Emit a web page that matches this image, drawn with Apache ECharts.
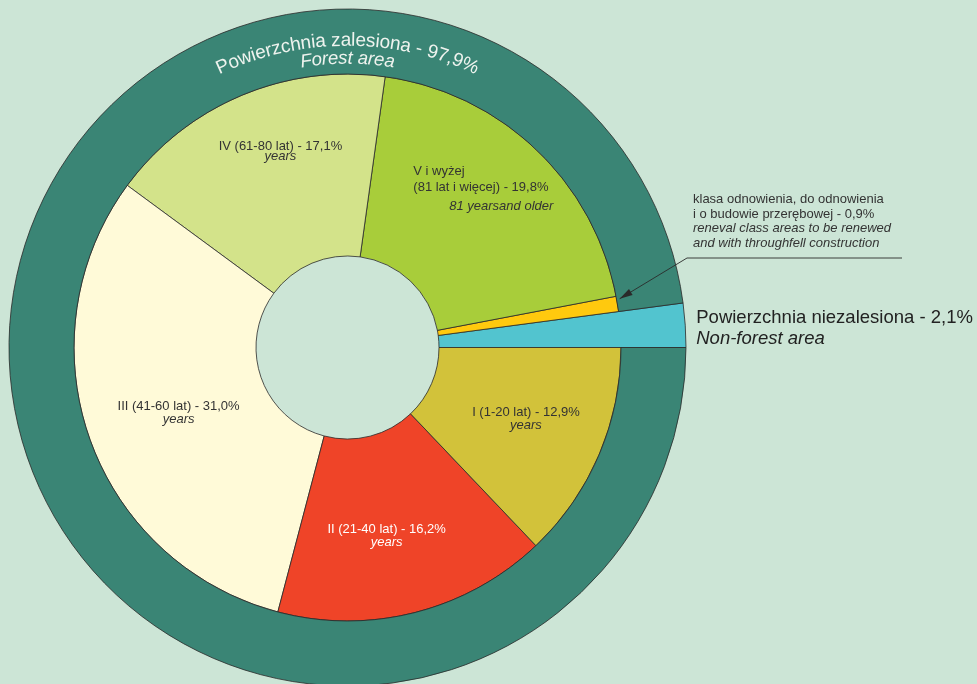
<!DOCTYPE html>
<html>
<head>
<meta charset="utf-8">
<script src="https://cdn.jsdelivr.net/npm/echarts@6/dist/echarts.min.js"></script>
<style>
html,body{margin:0;padding:0;background:#cce5d6;}
#main{width:977px;height:684px;}
</style>
</head>
<body>
<div id="main"></div>
<script>
// klasy wieku - udział w powierzchni (%)
const classLabels = ['V i wyżej', 'IV (61-80 lat)', 'III (41-60 lat)', 'II (21-40 lat)', 'I (1-20 lat)'];
const classValues = [19.8, 17.1, 31.0, 16.2, 12.9];
const renewalValue = 0.9;      // klasa odnowienia, do odnowienia...
const nonForestValue = 2.1;    // powierzchnia niezalesiona
const forestValue = 97.9;      // powierzchnia zalesiona

const FONT = '"Liberation Sans", Arial, sans-serif';
const cx = 347.5, cy = 347.5;
const rHole = 91.5, rMid = 273.5, rOut = 338.5;
const classColors = ['#a8cd3a', '#d3e38a', '#fffad8', '#ef4428', '#d2c23a'];
// przesunięcia etykiet wewnątrz wycinków [dx, dy]
const labelShift = [[0, 0], [0, 0], [8, -23], [5, -25], [6, 4], [-7, 9], [8, -2]];

const pct = v => v.toFixed(1).replace('.', ',') + '%';
const border = {borderColor: '#2a2a2a', borderWidth: 0.8};
const hidden = {color: 'transparent', borderWidth: 0};

var myChart = echarts.init(document.getElementById('main'));

// tekst po łuku pierścienia
const ctx = document.createElement('canvas').getContext('2d');
function arcText(str, font, R, color) {
    ctx.font = font;
    let chars = Array.from(str);
    let widths = chars.map(ch => ctx.measureText(ch).width);
    let total = widths.reduce((a, b) => a + b, 0);
    let s = -total / 2;
    let out = [];
    chars.forEach((ch, i) => {
        let mid = s + widths[i] / 2;
        s += widths[i];
        let th = Math.PI / 2 - mid / R;
        out.push({
            type: 'text',
            z: 100,
            x: cx + R * Math.cos(th),
            y: cy - R * Math.sin(th),
            rotation: th - Math.PI / 2,
            silent: true,
            style: {text: ch, font: font, fill: color, align: 'center', verticalAlign: 'middle',
                    textAlign: 'center', textVerticalAlign: 'middle'}
        });
    });
    return out;
}

// strzałka do wycinka odnowienia
const tipAngle = (nonForestValue + renewalValue * 0.8) / 100 * Math.PI * 2;
const tip = [cx + (rMid + 3) * Math.cos(tipAngle), cy - (rMid + 3) * Math.sin(tipAngle)];
const elbow = [687, 258];
const lineEnd = [902, 258];
let ux = tip[0] - elbow[0], uy = tip[1] - elbow[1];
let ul = Math.sqrt(ux * ux + uy * uy); ux /= ul; uy /= ul;
const aL = 13, aW = 3.5;
const arrowHead = [
    tip,
    [tip[0] - ux * aL - uy * aW, tip[1] - uy * aL + ux * aW],
    [tip[0] - ux * aL + uy * aW, tip[1] - uy * aL - ux * aW]
];

let classData = classValues.map((v, i) => {
    let dark = i === 3;
    let txt;
    if (i === 0) {
        txt = '{nv|V i wyżej}\n{nv|(81 lat i więcej) - ' + pct(v) + '}\n{iv|81 yearsand older}';
    } else if (i === 1) {
        txt = '{nt|' + classLabels[i] + ' - ' + pct(v) + '}\n{it|years}';
    } else {
        let n = dark ? 'nw' : 'n', it = dark ? 'iw' : 'i';
        txt = '{' + n + '|' + classLabels[i] + ' - ' + pct(v) + '}\n{' + it + '|years}';
    }
    return {
        name: classLabels[i],
        value: v,
        itemStyle: Object.assign({color: classColors[i]}, border),
        label: {show: true, formatter: txt}
    };
});

myChart.setOption({
    backgroundColor: '#cce5d6',
    animation: false,
    graphic: {
        elements: []
            .concat(arcText('Powierzchnia zalesiona - ' + pct(forestValue), '19px ' + FONT, 307, '#eef3ee'))
            .concat(arcText('Forest area', 'italic 18.5px ' + FONT, 289, '#eef3ee'))
            .concat([
                {
                    type: 'polyline', silent: true, z: 100,
                    shape: {points: [tip, elbow, lineEnd]},
                    style: {stroke: '#2a2a2a', lineWidth: 0.9, fill: null}
                },
                {
                    type: 'polygon', silent: true, z: 100,
                    shape: {points: arrowHead},
                    style: {fill: '#2a2a2a'}
                },
                {
                    type: 'text', x: 693, y: 192, silent: true, z: 100,
                    style: {
                        text: '{n|klasa odnowienia, do odnowienia}\n{n|i o budowie przerębowej - ' + pct(renewalValue) + '}\n' +
                              '{i|reneval class areas to be renewed}\n{i|and with throughfell construction}',
                        align: 'left', verticalAlign: 'top',
                        rich: {
                            n: {fontSize: 13, lineHeight: 14.7, fontFamily: FONT, fill: '#333', color: '#333'},
                            i: {fontSize: 13, lineHeight: 14.7, fontFamily: FONT, fontStyle: 'italic', fill: '#333', color: '#333'}
                        }
                    }
                }
            ])
    },
    series: [
        // powierzchnia niezalesiona
        {
            type: 'pie',
            center: [cx, cy],
            radius: [rHole, rOut],
            startAngle: 0,
            clockwise: false,
            silent: true,
            avoidLabelOverlap: false,
            label: {show: false},
            data: [
                {
                    name: 'Powierzchnia niezalesiona',
                    value: nonForestValue,
                    itemStyle: Object.assign({color: '#52c4cf'}, border),
                    label: {
                        show: true,
                        position: 'outside',
                        distanceToLabelLine: 5,
                        overflow: 'none',
                        formatter: '{a|Powierzchnia niezalesiona - ' + pct(nonForestValue) + '}\n{b|Non-forest area}',
                        rich: {
                            a: {fontSize: 18.5, lineHeight: 21, fontFamily: FONT, color: '#222'},
                            b: {fontSize: 18.5, lineHeight: 21, fontFamily: FONT, fontStyle: 'italic', color: '#222'}
                        }
                    },
                    labelLine: {show: false, length: 0, length2: 6}
                },
                {value: forestValue, itemStyle: hidden, label: {show: false}, labelLine: {show: false}}
            ],
            labelLayout: function (p) {
                return {dy: 3};
            }
        },
        // klasy wieku
        {
            type: 'pie',
            center: [cx, cy],
            radius: [rHole, rMid],
            startAngle: 0,
            clockwise: false,
            silent: true,
            avoidLabelOverlap: false,
            label: {
                show: false,
                position: 'inside',
                rich: {
                    n: {fontSize: 13, lineHeight: 13, fontFamily: FONT, color: '#333'},
                    i: {fontSize: 13, lineHeight: 13, fontFamily: FONT, fontStyle: 'italic', color: '#333'},
                    nt: {fontSize: 13, lineHeight: 10, fontFamily: FONT, color: '#333'},
                    it: {fontSize: 13, lineHeight: 10, fontFamily: FONT, fontStyle: 'italic', color: '#333'},
                    nw: {fontSize: 13, lineHeight: 13, fontFamily: FONT, color: '#fff'},
                    iw: {fontSize: 13, lineHeight: 13, fontFamily: FONT, fontStyle: 'italic', color: '#fff'},
                    nv: {fontSize: 13, lineHeight: 16, fontFamily: FONT, color: '#333', width: 140, align: 'left'},
                    iv: {fontSize: 13, lineHeight: 22, fontFamily: FONT, fontStyle: 'italic', color: '#333', width: 140, align: 'right'}
                }
            },
            labelLine: {show: false},
            labelLayout: function (p) {
                let s = labelShift[p.dataIndex];
                return {dx: s[0], dy: s[1]};
            },
            data: [
                {value: nonForestValue, itemStyle: hidden},
                {name: 'klasa odnowienia', value: renewalValue, itemStyle: Object.assign({color: '#ffc90e'}, border)}
            ].concat(classData)
        },
        // powierzchnia zalesiona - pierścień
        {
            type: 'pie',
            center: [cx, cy],
            radius: [rMid, rOut],
            startAngle: 0,
            clockwise: false,
            silent: true,
            label: {show: false},
            labelLine: {show: false},
            data: [
                {value: nonForestValue, itemStyle: hidden},
                {name: 'Powierzchnia zalesiona', value: forestValue, itemStyle: Object.assign({color: '#3a8575'}, border)}
            ]
        }
    ]
});
</script>
</body>
</html>
